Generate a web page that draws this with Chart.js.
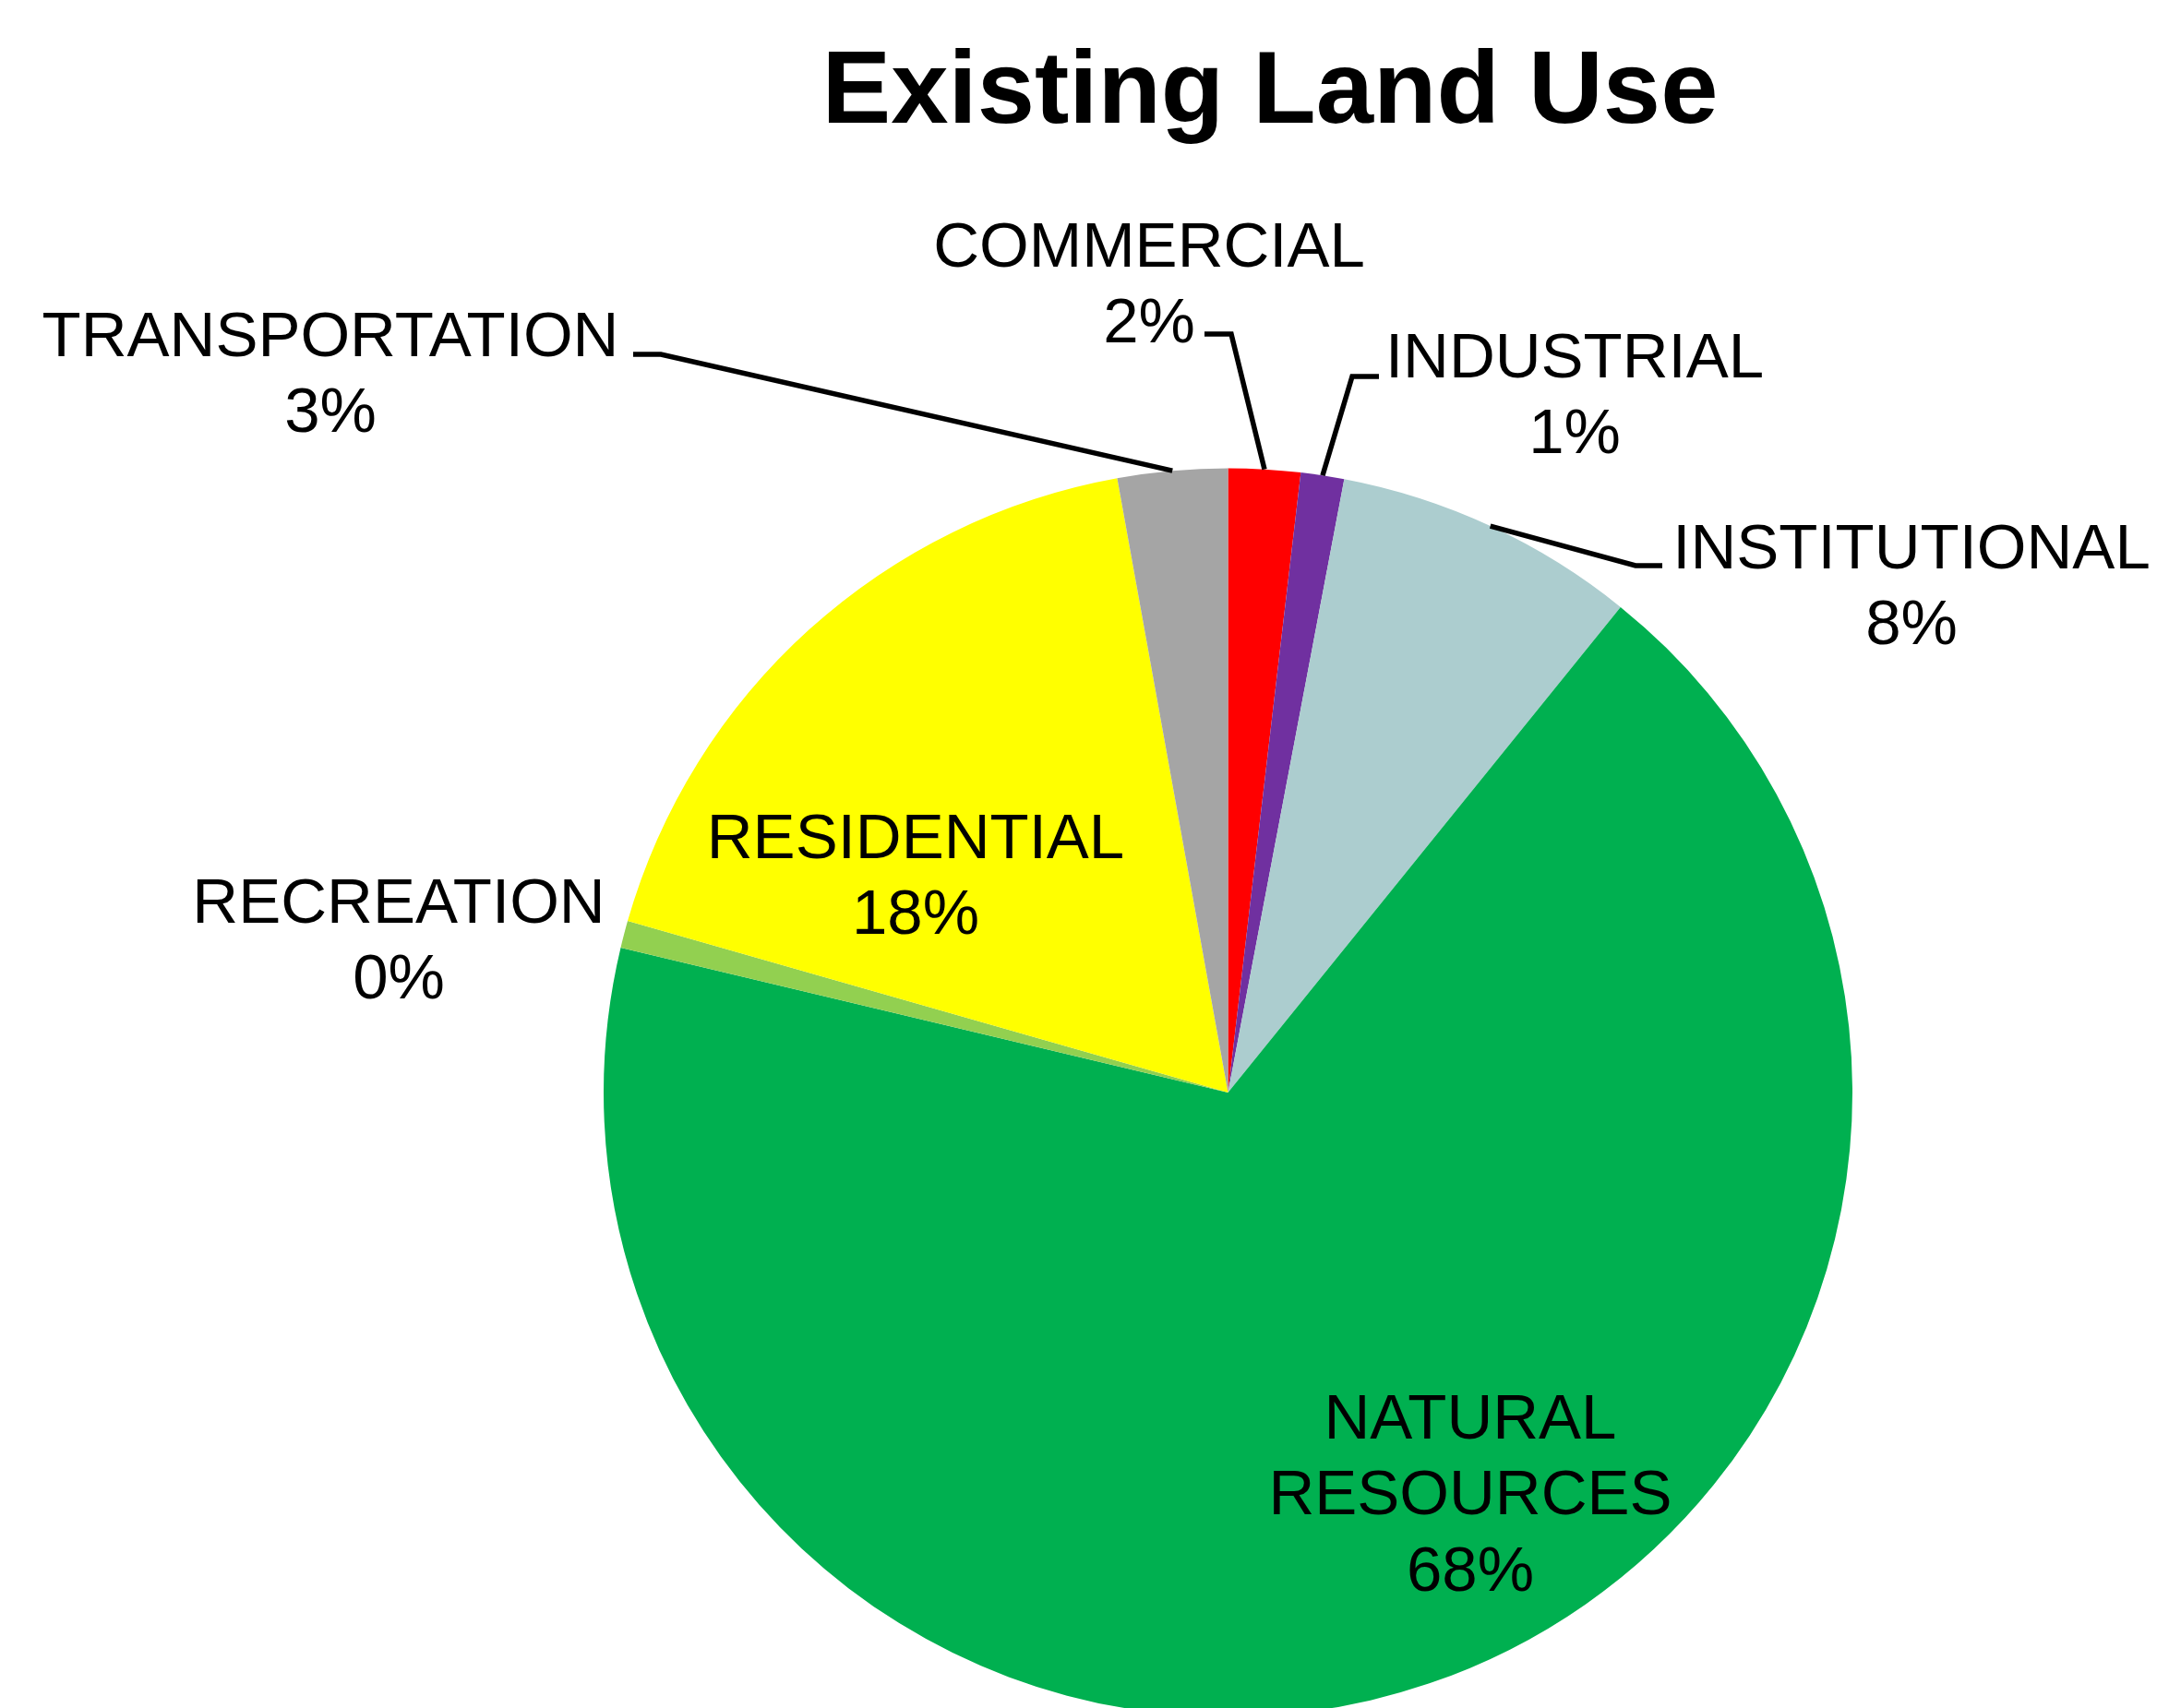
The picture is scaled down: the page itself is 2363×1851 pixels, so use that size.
<!DOCTYPE html>
<html>
<head>
<meta charset="utf-8">
<script src="https://cdn.jsdelivr.net/npm/chart.js@4.4.0/dist/chart.umd.min.js"></script>
<style>
html,body{margin:0;padding:0;background:#ffffff;overflow:hidden;}
#wrap{width:2363px;height:1900px;position:relative;}
</style>
</head>
<body>
<div id="wrap"><canvas id="c" width="2363" height="1900"></canvas></div>
<script>
// ---- data ----
const chartTitle = 'Existing Land Use';
const categories = ['COMMERCIAL', 'INDUSTRIAL', 'INSTITUTIONAL', 'NATURAL RESOURCES', 'RECREATION', 'RESIDENTIAL', 'TRANSPORTATION'];
const shares = [1.86, 1.12, 7.84, 67.91, 0.70, 17.73, 2.84];
const percentLabels = ['2%', '1%', '8%', '68%', '0%', '18%', '3%'];
const sliceColors = ['#FF0000', '#7030A0', '#ACCDCF', '#00B050', '#92D050', '#FFFF00', '#A5A5A5'];

// ---- label layout (text centres; leader elbow + end) ----
const labelLayout = [
  {x: 1245, y: 264, leader: [[1334, 362], [1305, 362]]},
  {x: 1706, y: 384, leader: [[1465, 408], [1494, 408]]},
  {x: 2071, y: 591, leader: [[1772, 613], [1801, 613]]},
  {x: 1593, y: 1534, wrap: true},
  {x: 432, y: 975},
  {x: 992, y: 905},
  {x: 358, y: 361, leader: [[716, 384], [686, 384]]}
];

const FONT = '"Liberation Sans", Arial, Helvetica, sans-serif';
const LABEL_SIZE = 69;
const LINE_STEP = 82.5;

const labelPlugin = {
  id: 'landUseLabels',
  afterDraw(chart) {
    const ctx = chart.ctx;
    const meta = chart.getDatasetMeta(0);
    ctx.save();
    // title
    ctx.fillStyle = '#000';
    ctx.font = 'bold 112px ' + FONT;
    ctx.textAlign = 'center';
    ctx.textBaseline = 'alphabetic';
    ctx.fillText(chartTitle, 1376, 133);

    meta.data.forEach((arc, i) => {
      const p = arc.getProps(['x', 'y', 'startAngle', 'endAngle', 'outerRadius'], true);
      const mid = (p.startAngle + p.endAngle) / 2;
      const rimX = p.x + Math.cos(mid) * p.outerRadius;
      const rimY = p.y + Math.sin(mid) * p.outerRadius;
      const lay = labelLayout[i];
      if (lay.leader) {
        ctx.beginPath();
        ctx.moveTo(rimX, rimY);
        lay.leader.forEach(pt => ctx.lineTo(pt[0], pt[1]));
        ctx.strokeStyle = '#000';
        ctx.lineWidth = 5.5;
        ctx.lineJoin = 'miter';
        ctx.lineCap = 'butt';
        ctx.stroke();
      }
      const lines = (lay.wrap ? categories[i].split(' ') : [categories[i]]).concat([percentLabels[i]]);
      ctx.font = LABEL_SIZE + 'px ' + FONT;
      ctx.fillStyle = '#000';
      ctx.textAlign = 'center';
      ctx.textBaseline = 'alphabetic';
      const capHalf = LABEL_SIZE * 0.716 / 2;
      lines.forEach((t, k) => {
        ctx.fillText(t, lay.x, lay.y + k * LINE_STEP + capHalf);
      });
    });
    ctx.restore();
  }
};

new Chart(document.getElementById('c'), {
  type: 'pie',
  data: {
    labels: categories,
    datasets: [{
      data: shares,
      backgroundColor: sliceColors,
      borderWidth: 0,
      hoverOffset: 0
    }]
  },
  options: {
    responsive: false,
    devicePixelRatio: 1,
    animation: false,
    events: [],
    radius: 676.5,
    layout: {padding: {top: 507.5, bottom: 39.5, left: 654, right: 356}},
    plugins: {
      legend: {display: false},
      title: {display: false},
      tooltip: {enabled: false}
    }
  },
  plugins: [labelPlugin]
});
</script>
</body>
</html>
